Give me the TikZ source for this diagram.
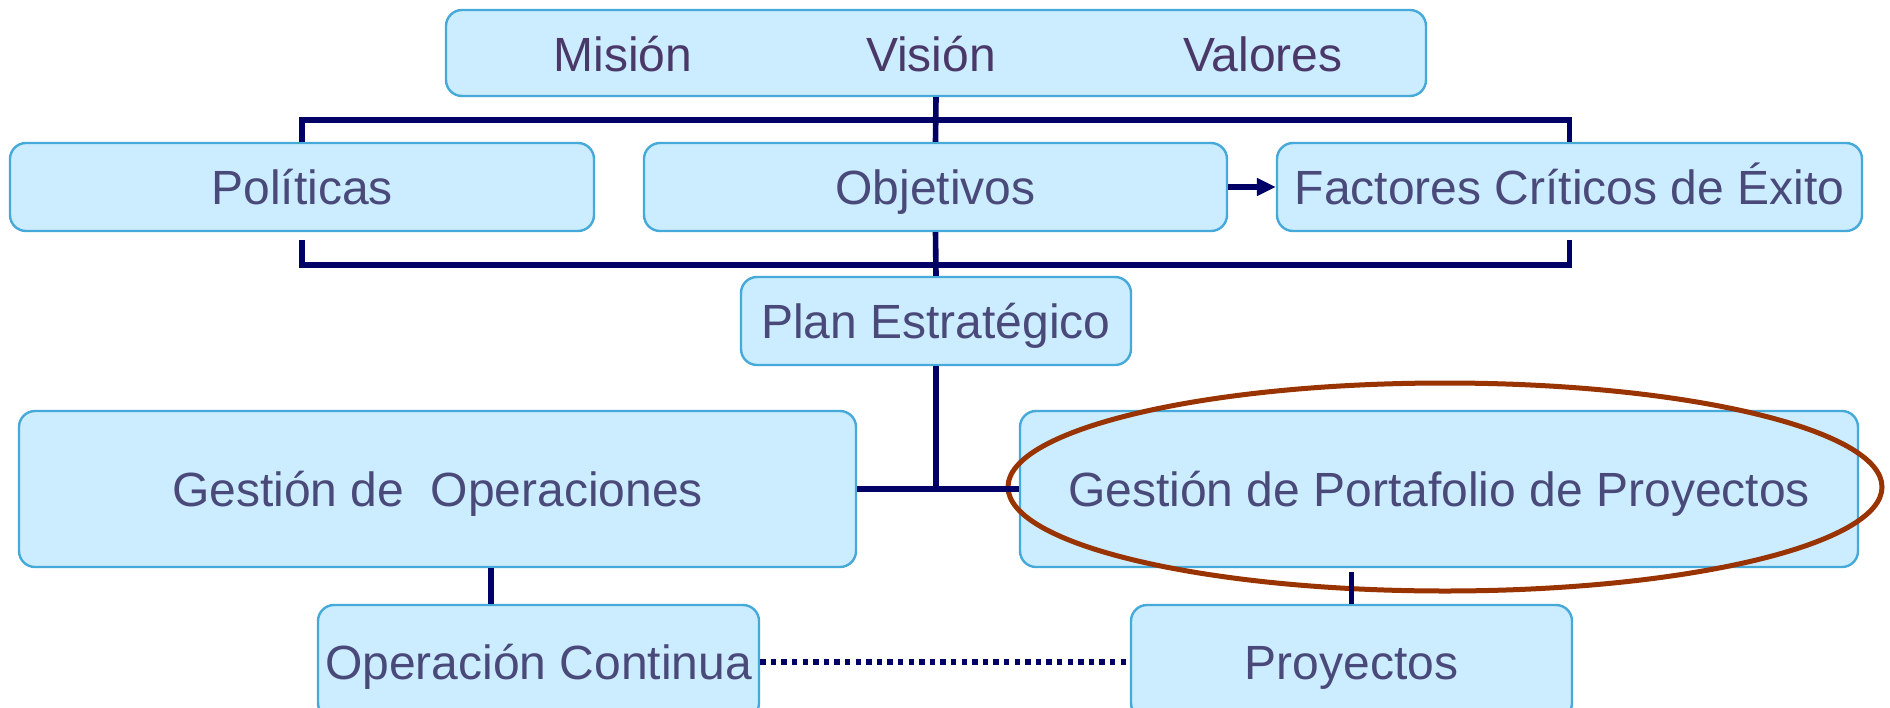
\documentclass[tikz,border=0pt]{standalone}
\usepackage{fontspec}
\setmainfont{Liberation Sans}
\usetikzlibrary{arrows.meta,calc}
\definecolor{boxfill}{HTML}{CCECFF}
\definecolor{boxline}{HTML}{45A9DA}
\definecolor{navy}{HTML}{000066}
\definecolor{txt}{HTML}{4A4A7A}
\definecolor{toptxt}{HTML}{4A3869}
\definecolor{ring}{HTML}{993300}
\begin{document}
\begin{tikzpicture}[x=0.5pt,y=-0.5pt,
  box/.style={draw=boxline, line width=1.2pt, fill=boxfill, rounded corners=8pt,
    inner sep=0pt, text=txt, font=\fontsize{24}{28}\selectfont,
    text height=17.2pt, text depth=0pt},
  lbl/.style={inner sep=0pt, text=toptxt, font=\fontsize{24}{28}\selectfont,
    text height=17.2pt, text depth=0pt},
  conn/.style={draw=navy, line width=2.8pt},
  dotlink/.style={draw=navy, line width=2.6pt, dash pattern=on 2.7pt off 2.6pt},
]
\useasboundingbox (0,0) rectangle (1890,707);
\clip (0,0) rectangle (1890,707);

% boxes
\node[box, minimum width=490pt, minimum height=43pt] (top) at (936,53) {};
\node[lbl] (mis) at (623,54) {Misión};
\node[lbl] (vis) at (931,54) {Visión};
\node[lbl] (val) at (1263,54) {Valores};

\node[box, minimum width=292pt, minimum height=44pt] (pol) at (302,187) {Políticas};
\node[box, minimum width=291.5pt, minimum height=44pt] (obj) at (935.5,187) {Objetivos};
\node[box, minimum width=292.5pt, minimum height=44pt] (fce) at (1569.5,187) {Factores Críticos de Éxito};
\node[box, minimum width=195pt, minimum height=44pt] (plan) at (936,321) {Plan Estratégico};
\node[box, minimum width=418.5pt, minimum height=78pt] (gop) at (437.5,489) {Gestión de\ \ Operaciones};
\node[box, minimum width=419pt, minimum height=78pt] (gpp) at (1439,489) {Gestión de Portafolio de Proyectos};
\node[box, minimum width=220.5pt, minimum height=57pt] (opc) at (538.5,662) {Operación Continua};
\node[box, minimum width=220.5pt, minimum height=57pt] (pro) at (1351.5,662) {Proyectos};

% highlight ellipse
\draw[ring, line width=2.5pt] (1445,487) ellipse [x radius=437, y radius=104];

% upper bracket
\coordinate (tb) at (937,120);
\draw[conn] (top.south) -- (obj.north);
\draw[conn] (pol.north) |- (tb) -| (fce.north);

% lower bracket
\coordinate (bb) at (937,265);
\draw[conn] ([yshift=-4pt]pol.south) |- (bb) -| ([yshift=-4pt]fce.south);
\draw[conn] (obj.south) -- (plan.north);

% arrow
\draw[conn, -{Triangle[length=9.5pt,width=8.5pt]}] (obj.east) -- (fce.west);

% plan to management
\coordinate (j) at (plan.south |- gop.east);
\draw[conn] (plan.south) -- (j);
\draw[conn] (gop.east) -- (gpp.west);

% to operations / projects
\coordinate (oc) at ([xshift=-23.75pt]opc.north);
\draw[conn] (oc) -- (oc |- gop.south);
\coordinate (gq) at ([yshift=-2pt]gpp.south);
\draw[conn] (pro.north) -- (pro.north |- gq);

% dotted link
\draw[dotlink] (opc.east) -- (pro.west);
\end{tikzpicture}
\end{document}
